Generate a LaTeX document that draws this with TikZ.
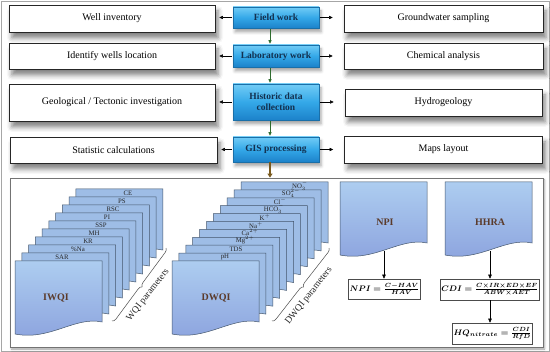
\documentclass[tikz,border=0pt]{standalone}
\usepackage{fontspec}
\setmainfont{Liberation Serif}
\usepackage{amsmath}
\usetikzlibrary{arrows.meta,shadows,shadows.blur,decorations.pathreplacing,calc}
\definecolor{cbt}{HTML}{72CCF6}
\definecolor{cbm}{HTML}{34A8E8}
\definecolor{cbb}{HTML}{1C82CA}
\definecolor{cbline}{HTML}{1A6FA8}
\definecolor{ctext}{HTML}{12304F}
\definecolor{sheetfill}{HTML}{9EBDE6}
\definecolor{sheetline}{HTML}{44566C}
\definecolor{ftop}{HTML}{ADCDF0}
\definecolor{fbot}{HTML}{8CA3DE}
\definecolor{lbl}{HTML}{5B3B2B}
\definecolor{garrow}{HTML}{2E6B2E}
\definecolor{barrow}{HTML}{7A5A1E}
\tikzset{
  sheet/.pic={\path[pic actions] (0,0) -- (87,0) -- (87,61) .. controls (60,55) and (35,80) .. (0,73) -- cycle;},
  sidebox/.style={draw=black!85,line width=0.7pt,fill=white,inner sep=0pt,
     font=\fontsize{10}{12}\selectfont,
     blur shadow={shadow xshift=3pt,shadow yshift=-6pt,shadow blur radius=5pt,shadow opacity=50}},
  midbox/.style={draw=cbline,line width=0.5pt,top color=cbt,bottom color=cbb,middle color=cbm,
     text=ctext,font=\fontsize{9.5}{11}\selectfont\bfseries,align=center,inner sep=0pt,
     minimum width=86pt,
     blur shadow={shadow xshift=2pt,shadow yshift=-4pt,shadow blur radius=3pt,shadow opacity=35}},
  backsheet/.style={draw=sheetline,line width=0.5pt,fill=sheetfill},
  frontsheet/.style={draw=sheetline,line width=0.5pt,top color=ftop,bottom color=fbot},
  plbl/.style={font=\fontsize{6.8}{7}\selectfont,text=black!85,inner sep=0pt},
  biglbl/.style={font=\fontsize{10}{12}\selectfont\bfseries,text=lbl},
  bracetxt/.style={font=\fontsize{9.5}{10}\selectfont,rotate=52,text=black!85,inner sep=0pt},
  brc/.style={black!70,line width=0.5pt,decorate,decoration={brace,mirror,amplitude=4pt}},
  fbox/.style={draw=black!70,line width=0.5pt,fill=white,inner sep=1pt,
     font=\fontsize{8.5}{10}\selectfont\boldmath},
  sarr/.style={-{Triangle[length=3.5pt,width=3.2pt]},line width=0.5pt,black},
  garr/.style={-{Triangle[length=3.5pt,width=3pt]},line width=0.7pt,garrow},
  barr/.style={-{Triangle[length=4pt,width=5pt]},line width=2.2pt,barrow},
  darr/.style={-{Triangle[length=4pt,width=3.5pt]},line width=0.5pt,black}
}
\begin{document}
\begin{tikzpicture}[x=1pt,y=-1pt]
\useasboundingbox (0,0) rectangle (550,352);
\draw[black!35,line width=0.6pt] (1,1) rectangle (549,351);

% left boxes
\node[sidebox,minimum width=206pt,minimum height=27pt] (wi) at (112,18.5) {Well inventory};
\node[sidebox,minimum width=206pt,minimum height=26pt] (iw) at (112,56) {Identify wells location};
\node[sidebox,minimum width=206pt,minimum height=37pt] (gt) at (112,102.5) {Geological / Tectonic investigation};
\node[sidebox,minimum width=207pt,minimum height=26pt] (sc) at (113.5,150) {Statistic calculations};
% right boxes
\node[sidebox,minimum width=199pt,minimum height=27pt] (gs) at (443.5,18.5) {Groundwater sampling};
\node[sidebox,minimum width=199pt,minimum height=26pt] (ca) at (443.5,56) {Chemical analysis};
\node[sidebox,minimum width=197pt,minimum height=27pt] (hy) at (443.5,102.5) {Hydrogeology};
\node[sidebox,minimum width=198pt,minimum height=27pt] (ml) at (443.5,149.5) {Maps layout};

% bottom frame
\node[draw=black!55,line width=0.8pt,fill=white,minimum width=533pt,minimum height=169pt,inner sep=0pt,
  blur shadow={shadow xshift=1.5pt,shadow yshift=-2pt,shadow blur radius=2pt,shadow opacity=40}] (frame) at (276.5,262.5) {};

% centre boxes
\node[midbox,minimum height=21pt] (fw) at (276,17.5) {Field work};
\node[midbox,minimum height=22pt] (lw) at (276,56) {Laboratory work};
\node[midbox,minimum height=36pt] (hd) at (276,102) {Historic data\\collection};
\node[midbox,minimum height=25pt] (gp) at (276,149.5) {GIS processing};

% side arrows
\foreach \c/\l/\r in {fw/wi/gs,lw/iw/ca,hd/gt/hy,gp/sc/ml}{
  \draw[sarr,shorten <=1pt,shorten >=4pt] (\c.west) -- (\c.west -| \l.east);
  \draw[sarr,shorten <=1pt,shorten >=11pt] (\c.east) -- (\c.east -| \r.west);
}
% down arrows
\draw[garr,shorten <=1pt,shorten >=1pt] ([xshift=-6pt]fw.south) -- ([xshift=-6pt]lw.north);
\draw[garr,shorten <=1pt,shorten >=1pt] ([xshift=-6pt]lw.south) -- ([xshift=-6pt]hd.north);
\draw[garr,shorten <=1pt,shorten >=1pt] ([xshift=-6pt]hd.south) -- ([xshift=-6pt]gp.north);
\draw[barr] ([xshift=-6pt]gp.south) -- ([xshift=-6pt]gp.south |- frame.north);

% IWQI stack
\foreach \i in {9,...,1}{
  \pic[backsheet] at ({15+6.75*\i},{261-8*\i}) {sheet};
}
\pic[frontsheet] at (15,261) {sheet};
\foreach \t/\x/\y in {SAR/62/257,\%Na/78/249.5,KR/88/241,MH/94/233,SSP/101/225,PI/107/217,RSC/113/209,PS/122/201,CE/128/193}{
  \node[plbl] (iwl\x) at (\x,\y) {\t};
}
\node[biglbl] (iwqi) at (56,298) {IWQI};
\draw[brc] (112,321) -- (166,248);
\node[bracetxt] (wqip) at (148,295) {WQI parameters};

% DWQI stack
\foreach \i in {10,...,1}{
  \pic[backsheet] at ({172+6.9*\i},{261-7.9*\i}) {sheet};
}
\pic[frontsheet] at (172,261) {sheet};
\node[plbl] (d1) at (225,257) {pH};
\node[plbl] (d2) at (236,249) {TDS};
\node[plbl] (d3) at (245,240.5) {Mg$^{2+}$};
\node[plbl] (d4) at (250,232.5) {Ca$^{2+}$};
\node[plbl] (d5) at (256,225) {Na$^{+}$};
\node[plbl] (d6) at (265,217) {K$^{+}$};
\node[plbl] (d7) at (274,209) {HCO$_3^{-}$};
\node[plbl] (d8) at (280,201) {Cl$^{-}$};
\node[plbl] (d9) at (291,193.5) {SO$_4^{2-}$};
\node[plbl] (d10) at (300,186) {NO$_3^{-}$};
\node[biglbl] (dwqi) at (216,298) {DWQI};
\draw[brc] (272,321) -- (329,248);
\node[bracetxt] (dwqip) at (309,296) {DWQI parameters};

% NPI and HHRA
\pic[frontsheet] at (340,182) {sheet};
\pic[frontsheet] at (445,182) {sheet};
\node[biglbl] (npi) at (385,222) {NPI};
\node[biglbl] (hhra) at (490,222) {HHRA};
\coordinate (npib) at (384,251);
\coordinate (hhrab) at (490,251);

\node[fbox,minimum width=59pt,minimum height=20pt] (npif) at (384.5,289) {$NPI=\frac{C-HAV}{HAV}$};
\node[fbox,minimum width=81pt,minimum height=21pt] (cdif) at (490,289.5) {$CDI=\frac{C\times IR\times ED\times EF}{ABW\times AET}$};
\node[fbox,minimum width=71pt,minimum height=21pt] (hqf) at (492.5,333.5) {$HQ_{nitrate}=\frac{CDI}{RfD}$};

\draw[darr] (npib) -- (npib |- npif.north);
\draw[darr] (hhrab) -- (hhrab |- cdif.north);
\draw[darr] (hhrab |- cdif.south) -- (hhrab |- hqf.north);
\end{tikzpicture}
\end{document}
